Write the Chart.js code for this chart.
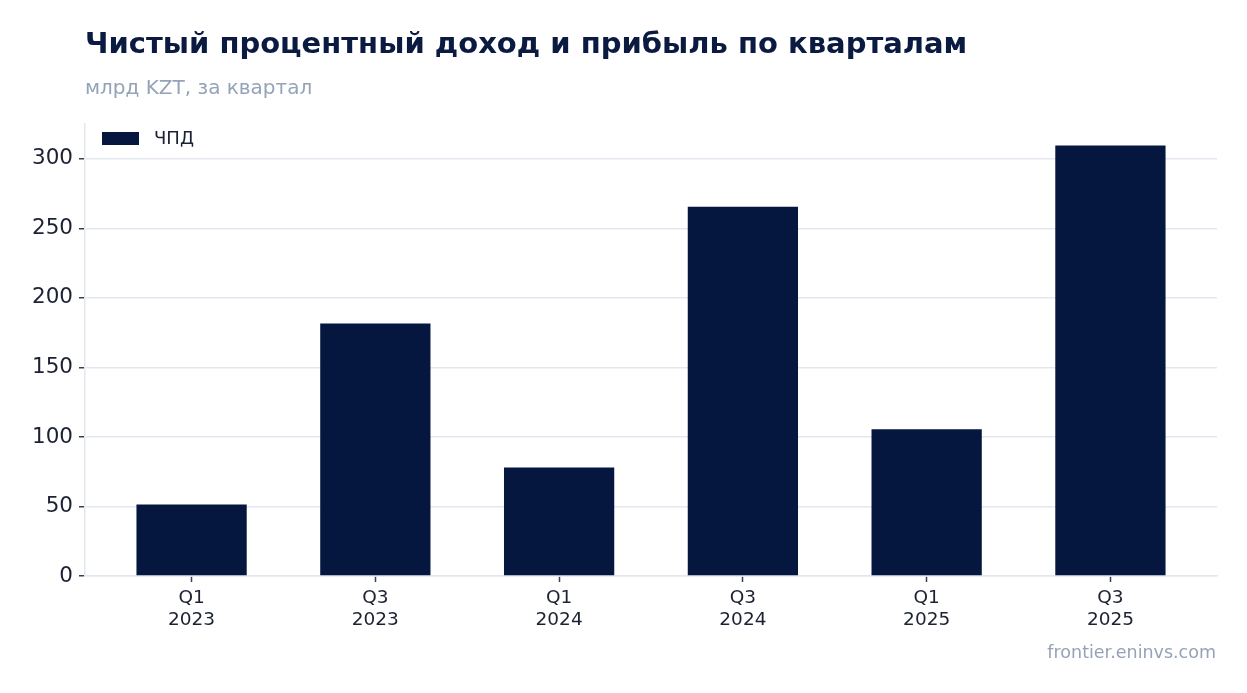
<!DOCTYPE html>
<html>
<head>
<meta charset="utf-8">
<script src="https://cdn.jsdelivr.net/npm/chart.js@4"></script>
<style>
    body { margin: 0; background: #ffffff; font-family: "DejaVu Sans", sans-serif; }
    #wrap { position: relative; width: 1247px; height: 693px; overflow: hidden; }
    #chart { position: absolute; left: 0; top: 0; }
    #title { position: absolute; left: 85px; top: 26px; margin: 0; font-size: 29px; font-weight: bold; color: #0a1a40; white-space: nowrap; }
    #subtitle { position: absolute; left: 85px; top: 75px; font-size: 20px; color: #94a3b8; white-space: nowrap; }
    #source { position: absolute; right: 31px; top: 642px; font-size: 17.5px; color: #94a3b8; white-space: nowrap; }
</style>
</head>
<body>
<div id="wrap">
    <canvas id="chart" width="1247" height="693"></canvas>
    <h1 id="title">Чистый процентный доход и прибыль по кварталам</h1>
    <div id="subtitle">млрд KZT, за квартал</div>
    <div id="source">frontier.eninvs.com</div>
</div>
<script>
// данные
const quarters = ["Q1", "Q3", "Q1", "Q3", "Q1", "Q3"];
const years = ["2023", "2023", "2024", "2024", "2025", "2025"];
const nii = [51.5, 181.5, 78, 265.5, 105.5, 309.5];
const yTicks = [0, 50, 100, 150, 200, 250, 300];
const seriesName = "ЧПД";

const barColor = "#05163f";
const gridColor = "#e3e7ef";
const textColor = "#1c2133";

// легенда внутри области графика
const innerLegend = {
    id: "innerLegend",
    afterDraw(chart) {
        const ctx = chart.ctx;
        const area = chart.chartArea;
        const ds = chart.data.datasets[0];
        ctx.save();
        ctx.fillStyle = ds.backgroundColor;
        ctx.fillRect(area.left + 17, area.top + 8, 37, 13);
        ctx.fillStyle = textColor;
        ctx.font = "18px 'DejaVu Sans'";
        ctx.textBaseline = "middle";
        ctx.fillText(ds.label, area.left + 69, area.top + 15);
        ctx.restore();
    }
};

const points = nii.map((v, i) => ({ x: i, y: v }));

new Chart(document.getElementById("chart"), {
    type: "bar",
    data: {
        datasets: [{
            label: seriesName,
            data: points,
            backgroundColor: barColor,
            borderWidth: 0,
            categoryPercentage: 1,
            barPercentage: 0.6
        }]
    },
    options: {
        responsive: false,
        animation: false,
        layout: { padding: { top: 124, right: 30, left: 0, bottom: 0 } },
        plugins: {
            legend: { display: false },
            tooltip: { enabled: false }
        },
        scales: {
            x: {
                type: "linear",
                min: -0.58,
                max: 5.58,
                offset: false,
                afterBuildTicks: scale => {
                    scale.ticks = quarters.map((q, i) => ({ value: i }));
                },
                afterFit: scale => { scale.height = 117; },
                border: { display: true, color: gridColor, width: 1.5 },
                grid: { offset: false, drawOnChartArea: false, drawTicks: true, tickLength: 6, tickColor: "#3a3f4f", tickWidth: 1.5 },
                ticks: {
                    autoSkip: false,
                    maxRotation: 0,
                    padding: 6,
                    color: textColor,
                    font: { family: "DejaVu Sans", size: 18.5, lineHeight: 1.15 },
                    callback: value => [quarters[value], years[value]]
                }
            },
            y: {
                min: 0,
                max: 325,
                afterBuildTicks: scale => {
                    scale.ticks = yTicks.map(v => ({ value: v }));
                },
                afterFit: scale => { scale.width = 85; },
                border: { display: true, color: gridColor, width: 1.5 },
                grid: { color: gridColor, lineWidth: 1.5, drawTicks: true, tickLength: 6, tickColor: "#3a3f4f", tickWidth: 1.5 },
                ticks: {
                    padding: 6,
                    color: textColor,
                    font: { family: "DejaVu Sans", size: 21.5 }
                }
            }
        }
    },
    plugins: [innerLegend]
});
</script>
</body>
</html>
